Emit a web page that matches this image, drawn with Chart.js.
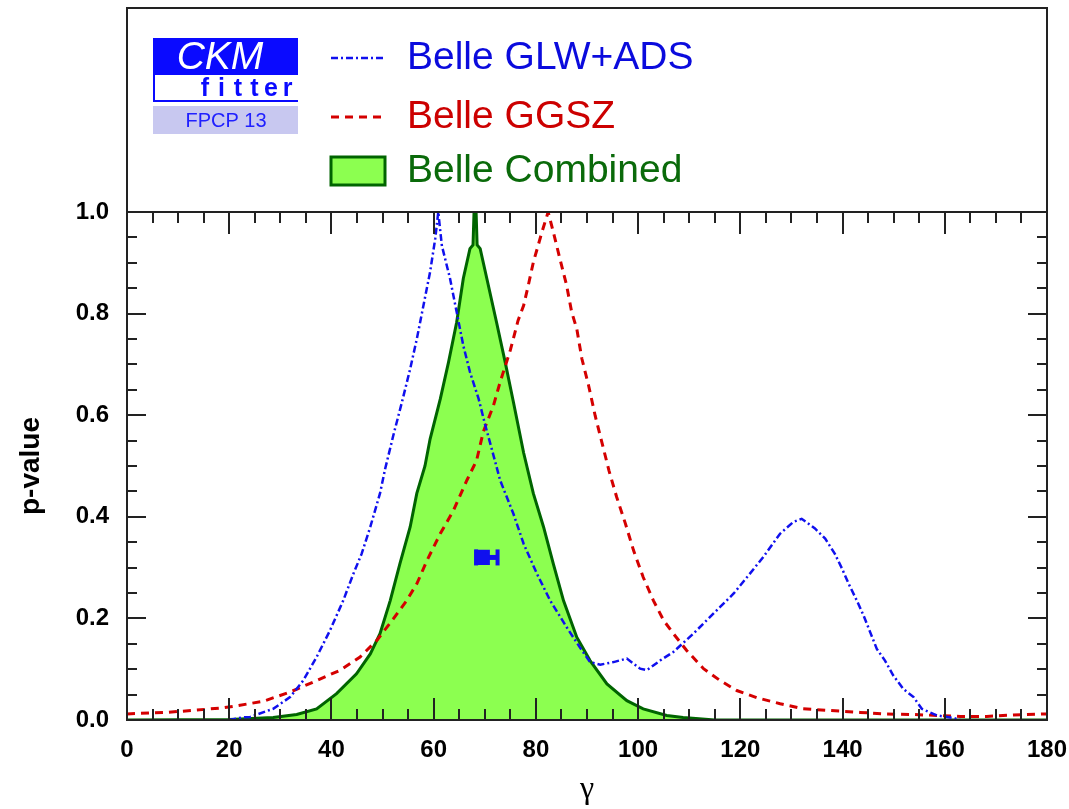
<!DOCTYPE html>
<html>
<head>
<meta charset="utf-8">
<script src="https://cdn.jsdelivr.net/npm/chart.js@4"></script>
<style>
  html, body { margin: 0; padding: 0; background: #fff; }
</style>
</head>
<body>
<canvas id="gammaChart" width="1069" height="809"></canvas>
<script>
// gamma (degrees) and p-value
const glwAdsGamma = [20, 22.5, 24.1, 28.6, 31.9, 34.5, 37.1, 39.7, 42.3, 44.3, 45.9, 47.6, 49.5, 50.5, 52.1, 53.8, 55.4, 56.7, 58, 59.3, 60.3, 60.9, 61.6, 63.2, 64.5, 65.8, 67.1, 68.8, 70.1, 71.7, 73, 75.6, 77.6, 80.2, 82.8, 86, 88.6, 90.6, 92.6, 95.2, 97.8, 100.4, 101.7, 104.3, 106.9, 110.8, 113.4, 116, 118.7, 121.3, 124.5, 127.8, 130.4, 132, 134.6, 136.6, 138.5, 139.9, 141.2, 142.8, 144.1, 145.4, 146.7, 148.3, 149.9, 151.9, 153.9, 155.5, 158.5, 161.7, 163];
const glwAdsP = [0, 0.005, 0.006, 0.022, 0.045, 0.078, 0.124, 0.176, 0.235, 0.288, 0.327, 0.38, 0.446, 0.494, 0.56, 0.626, 0.691, 0.75, 0.816, 0.882, 0.947, 1.0, 0.934, 0.869, 0.803, 0.737, 0.685, 0.632, 0.58, 0.521, 0.472, 0.406, 0.347, 0.288, 0.235, 0.183, 0.143, 0.114, 0.109, 0.114, 0.121, 0.101, 0.098, 0.117, 0.134, 0.17, 0.196, 0.222, 0.249, 0.281, 0.321, 0.367, 0.39, 0.396, 0.377, 0.357, 0.327, 0.298, 0.268, 0.235, 0.206, 0.173, 0.14, 0.117, 0.088, 0.061, 0.045, 0.022, 0.009, 0.004, 0];

const ggszGamma = [0, 7.8, 13, 18.8, 21.5, 26.7, 31.9, 36.5, 41.7, 45.6, 48.9, 52.1, 54.7, 56.7, 58.7, 61.3, 63.9, 66.5, 68.4, 69.7, 71.7, 73, 75, 76.5, 77.6, 78.5, 79.5, 81.2, 82.4, 83.4, 84.7, 86, 87, 88, 89, 90.3, 91.6, 92.9, 94.3, 95.8, 97.5, 99.1, 101, 103, 105, 106.9, 109.5, 112.8, 116, 119.3, 123.2, 127.8, 132.3, 136.9, 143.4, 148, 153.2, 158.5, 163, 168.2, 173.4, 180];
const ggszP = [0.012, 0.015, 0.019, 0.024, 0.028, 0.037, 0.055, 0.075, 0.098, 0.124, 0.157, 0.199, 0.235, 0.268, 0.314, 0.367, 0.413, 0.472, 0.511, 0.567, 0.619, 0.665, 0.728, 0.786, 0.816, 0.855, 0.901, 0.961, 1.0, 0.961, 0.908, 0.856, 0.803, 0.77, 0.711, 0.659, 0.599, 0.547, 0.491, 0.439, 0.387, 0.334, 0.281, 0.235, 0.196, 0.17, 0.137, 0.101, 0.078, 0.058, 0.044, 0.032, 0.022, 0.019, 0.015, 0.012, 0.011, 0.009, 0.007, 0.007, 0.01, 0.012];

const combinedGamma = [0, 20, 28.6, 33.2, 37.1, 41, 44.9, 47.6, 49.5, 51.5, 53.4, 55.4, 56.7, 58.3, 59.3, 61.3, 62.9, 64.5, 65.8, 67.1, 67.7, 67.9, 68.3, 68.5, 69.1, 70.4, 72.3, 74, 75.6, 77.6, 79.5, 81.5, 83.4, 85.4, 88, 90.6, 93.9, 97.8, 101, 105.6, 108.8, 115, 180];
const combinedP = [0, 0.001, 0.005, 0.011, 0.022, 0.052, 0.091, 0.13, 0.17, 0.235, 0.308, 0.38, 0.446, 0.5, 0.553, 0.632, 0.704, 0.783, 0.869, 0.928, 0.935, 1.0, 1.0, 0.935, 0.928, 0.869, 0.783, 0.704, 0.626, 0.526, 0.446, 0.38, 0.308, 0.235, 0.163, 0.117, 0.071, 0.038, 0.022, 0.009, 0.005, 0, 0];

// world average marker with its error bar
const markerGamma = [68.3, 69.5, 72.5];
const markerP = [0.32, 0.32, 0.32];

const xTickValues = [0, 20, 40, 60, 80, 100, 120, 140, 160, 180];
const yTickValues = [0, 0.2, 0.4, 0.6, 0.8, 1.0];

const legendLabels = ['Belle GLW+ADS', 'Belle GGSZ', 'Belle Combined'];

const BLUE = '#1010ee';
const RED = '#d40000';
const DKGREEN = '#006400';
const LTGREEN = '#8cff50';

const toPoints = (xs, ys) => xs.map((x, i) => ({ x: x, y: ys[i] }));

// frame, inward ticks, axis titles and the legend box
const decorations = {
  id: 'decorations',
  afterDraw(chart) {
    const ctx = chart.ctx;
    const a = chart.chartArea;
    const xs = chart.scales.x;
    const ys = chart.scales.y;
    ctx.save();

    ctx.strokeStyle = '#222';
    ctx.lineWidth = 2;
    ctx.strokeRect(a.left, 8, a.right - a.left, a.bottom - 8);
    ctx.beginPath();
    ctx.moveTo(a.left, a.top);
    ctx.lineTo(a.right, a.top);
    ctx.stroke();

    ctx.beginPath();
    for (let v = 0; v <= 180; v += 5) {
      const px = Math.round(xs.getPixelForValue(v));
      const len = v % 20 === 0 ? 22 : 11;
      ctx.moveTo(px, a.bottom);
      ctx.lineTo(px, a.bottom - len);
      ctx.moveTo(px, a.top);
      ctx.lineTo(px, a.top + len);
    }
    for (let i = 0; i <= 20; i++) {
      const py = Math.round(ys.getPixelForValue(i * 0.05));
      const len = i % 4 === 0 ? 19 : 10;
      ctx.moveTo(a.left, py);
      ctx.lineTo(a.left + len, py);
      ctx.moveTo(a.right, py);
      ctx.lineTo(a.right - len, py);
    }
    ctx.stroke();

    // axis titles
    ctx.fillStyle = '#000';
    ctx.textAlign = 'center';
    ctx.textBaseline = 'middle';
    ctx.font = '32px "Liberation Serif"';
    ctx.fillText('\u03b3', (a.left + a.right) / 2, 790);
    ctx.save();
    ctx.translate(31, (a.top + a.bottom) / 2);
    ctx.rotate(-Math.PI / 2);
    ctx.font = 'bold 28px "Liberation Sans"';
    ctx.fillText('p-value', 0, 0);
    ctx.restore();

    // CKMfitter logo
    ctx.fillStyle = '#0a0aff';
    ctx.fillRect(153, 38, 145, 37);
    ctx.fillStyle = '#fff';
    ctx.font = 'italic 39px "Liberation Sans"';
    ctx.fillText('CKM', 220, 58);
    ctx.strokeStyle = '#0a0aff';
    ctx.lineWidth = 2;
    ctx.beginPath();
    ctx.moveTo(154, 75);
    ctx.lineTo(154, 101);
    ctx.lineTo(298, 101);
    ctx.stroke();
    ctx.fillStyle = '#0a0aff';
    ctx.font = 'bold 25px "Liberation Sans"';
    const fitter = 'fitter';
    for (let i = 0; i < fitter.length; i++) {
      ctx.fillText(fitter[i], 205 + i * 16.5, 89);
    }
    ctx.fillStyle = '#c8c8f0';
    ctx.fillRect(153, 106, 145, 28);
    ctx.fillStyle = '#2020ff';
    ctx.font = '20px "Liberation Sans"';
    ctx.fillText('FPCP 13', 226, 121);

    // legend entries
    ctx.lineWidth = 2.5;
    ctx.strokeStyle = BLUE;
    ctx.setLineDash([7, 3, 2, 3]);
    ctx.beginPath();
    ctx.moveTo(331, 58);
    ctx.lineTo(383, 58);
    ctx.stroke();
    ctx.lineWidth = 3;
    ctx.strokeStyle = RED;
    ctx.setLineDash([8, 6]);
    ctx.beginPath();
    ctx.moveTo(331, 117);
    ctx.lineTo(385, 117);
    ctx.stroke();
    ctx.setLineDash([]);
    ctx.fillStyle = LTGREEN;
    ctx.fillRect(331, 157, 54, 28);
    ctx.lineWidth = 3;
    ctx.strokeStyle = DKGREEN;
    ctx.strokeRect(331, 157, 54, 28);

    ctx.textAlign = 'left';
    ctx.font = '39px "Liberation Sans"';
    ctx.fillStyle = '#0b0bdd';
    ctx.fillText(legendLabels[0], 407, 58);
    ctx.fillStyle = '#cc0000';
    ctx.fillText(legendLabels[1], 407, 117);
    ctx.fillStyle = '#0a6a0a';
    ctx.fillText(legendLabels[2], 407, 171);

    ctx.restore();
  }
};

const ctx = document.getElementById('gammaChart');
const gammaChart = new Chart(ctx, {
  type: 'line',
  data: {
    datasets: [
      {
        label: 'World average',
        data: toPoints(markerGamma, markerP),
        borderColor: BLUE,
        backgroundColor: BLUE,
        borderWidth: 5,
        pointStyle: ['line', 'rect', 'line'],
        rotation: [90, 0, 90],
        pointRadius: [8, 8, 8],
        pointBorderWidth: 4,
        pointBorderColor: BLUE,
        pointBackgroundColor: BLUE,
        fill: false,
        order: 0
      },
      {
        label: legendLabels[0],
        data: toPoints(glwAdsGamma, glwAdsP),
        borderColor: BLUE,
        borderWidth: 2.5,
        borderDash: [7, 3, 2, 3],
        pointRadius: 0,
        fill: false,
        order: 1
      },
      {
        label: legendLabels[1],
        data: toPoints(ggszGamma, ggszP),
        borderColor: RED,
        borderWidth: 3,
        borderDash: [8, 6],
        pointRadius: 0,
        fill: false,
        order: 2
      },
      {
        label: legendLabels[2],
        data: toPoints(combinedGamma, combinedP),
        borderColor: DKGREEN,
        backgroundColor: LTGREEN,
        borderWidth: 3,
        pointRadius: 0,
        fill: 'origin',
        order: 3
      }
    ]
  },
  options: {
    responsive: false,
    animation: false,
    layout: {
      padding: { top: 212, right: 22, left: 0, bottom: 0 }
    },
    scales: {
      x: {
        type: 'linear',
        min: 0,
        max: 180,
        grid: { display: false },
        border: { display: false },
        afterBuildTicks: (scale) => { scale.ticks = xTickValues.map(v => ({ value: v })); },
        afterFit: (scale) => {
          scale.height = 89;
          scale.paddingLeft = 0;
          scale.paddingRight = 0;
        },
        ticks: {
          color: '#000',
          padding: 8,
          maxRotation: 0,
          font: { family: 'Liberation Sans', size: 24, weight: 'bold' },
          callback: (v) => String(v)
        }
      },
      y: {
        min: 0,
        max: 1,
        grid: { display: false },
        border: { display: false },
        afterBuildTicks: (scale) => { scale.ticks = yTickValues.map(v => ({ value: v })); },
        afterFit: (scale) => { scale.width = 127; },
        ticks: {
          color: '#000',
          padding: 10,
          font: { family: 'Liberation Sans', size: 24, weight: 'bold' },
          callback: (v) => Number(v).toFixed(1)
        }
      }
    },
    plugins: {
      legend: { display: false },
      tooltip: { enabled: false }
    }
  },
  plugins: [decorations]
});
</script>
</body>
</html>
